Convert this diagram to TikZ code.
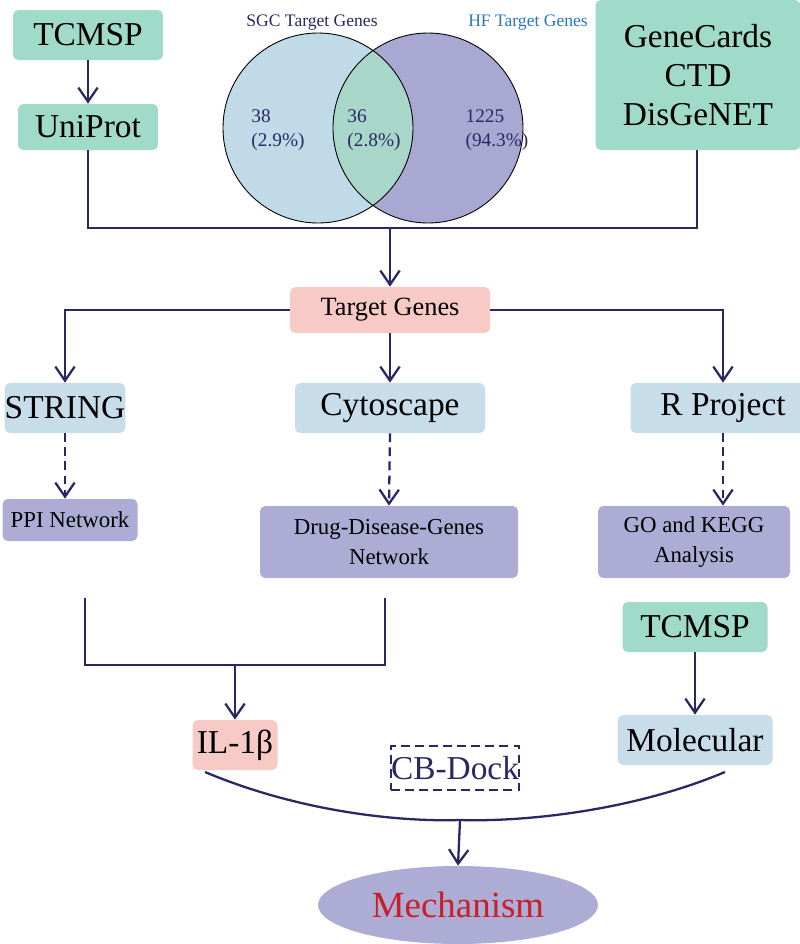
\documentclass[tikz,border=0pt]{standalone}
\usepackage{fontspec}
\setmainfont{Liberation Serif}
\usetikzlibrary{shapes.geometric, arrows.meta, positioning}
\definecolor{teal0}{RGB}{160,218,201}
\definecolor{sky0}{RGB}{200,221,234}
\definecolor{lav0}{RGB}{172,172,212}
\definecolor{pink0}{RGB}{248,202,197}
\definecolor{navy0}{RGB}{40,40,100}
\definecolor{vleft}{RGB}{192,218,232}
\definecolor{vright}{RGB}{168,168,210}
\definecolor{vmid}{RGB}{168,214,200}
\begin{document}
\begin{tikzpicture}[x=0.02cm, y=-0.02cm,
        box/.style={rounded corners=3pt, inner sep=0pt, font=\fontsize{19}{22}\selectfont},
        db/.style={box, fill=teal0},
        tool/.style={box, fill=sky0},
        result/.style={box, fill=lav0, font=\fontsize{13}{17}\selectfont, align=center},
        hit/.style={box, fill=pink0},
        line/.style={draw=navy0, line width=1.3pt},
        arr/.style={line, -{Straight Barb[length=8pt, width=11pt]}},
        darr/.style={arr, dash pattern=on 5pt off 3pt}
    ]
        \useasboundingbox (0,0) rectangle (800,944);
        % Sources
        \node[db, minimum width=150*0.02cm, minimum height=50*0.02cm] (tcm) at (88,35) {TCMSP};
        \node[db, minimum width=140*0.02cm, minimum height=46*0.02cm] (uni) at (88,127) {UniProt};
        \node[db, minimum width=205*0.02cm, minimum height=150*0.02cm, align=center] (gene) at (698,75) {GeneCards\\CTD\\DisGeNET};
        \draw[arr] (tcm) -- (uni);
        % Venn
        \fill[vleft] (318,128) circle (95);
        \fill[vright] (428,128) circle (95);
        \begin{scope}
            \clip (318,128) circle (95);
            \fill[vmid] (428,128) circle (95);
        \end{scope}
        \draw[black, line width=0.5pt] (318,128) circle (95) (428,128) circle (95);
        \node[text=navy0, font=\fontsize{10}{12}\selectfont] (sgc) at (312,23) {SGC Target Genes};
        \node[text={rgb,255:red,40;green,120;blue,190}, font=\fontsize{10}{12}\selectfont] (hf) at (528,23) {HF Target Genes};
        \node[text=navy0, font=\fontsize{11}{14}\selectfont, align=left] (n38) at (278,130) {38\\(2.9\%)};
        \node[text=navy0, font=\fontsize{11}{14}\selectfont, align=left] (n36) at (374,130) {36\\(2.8\%)};
        \node[text=navy0, font=\fontsize{11}{14}\selectfont, align=left] (n1225) at (497,130) {1225\\(94.3\%)};
        % Merge
        \coordinate (jl) at (88,228);
        \coordinate (jr) at (697,228);
        \coordinate (jm) at (390,228);
        \node[hit, minimum width=200*0.02cm, minimum height=46*0.02cm, font=\fontsize{15}{17}\selectfont] (tg) at (390,310) {Target Genes};
        \draw[line] (uni.south) ++(0,25) coordinate (ub) -- (jl) -- (jr) -- (gene.south -| jr);
        \draw[line] (uni.south) -- (ub);
        \draw[arr] (jm) -- (tg.north);
        % Tools
        \node[tool, minimum width=118*0.02cm, minimum height=50*0.02cm] (str) at (65,408) {STRING};
        \node[tool, minimum width=190*0.02cm, minimum height=50*0.02cm] (cyt) at (390,408) {Cytoscape};
        \node[tool, minimum width=185*0.02cm, minimum height=50*0.02cm] (rp) at (723,408) {R Project};
        \draw[arr] (tg.west) -| (str.north);
        \draw[arr] (tg.east) -| (rp.north);
        \draw[arr] (tg.south) -- (cyt.north);
        % Results
        \node[result, minimum width=135*0.02cm, minimum height=42*0.02cm] (ppi) at (70,520) {PPI Network};
        \node[result, minimum width=258*0.02cm, minimum height=72*0.02cm] (ddg) at (389,542) {Drug-Disease-Genes\\Network};
        \node[result, minimum width=192*0.02cm, minimum height=72*0.02cm] (go) at (694,542) {GO and KEGG\\Analysis};
        \draw[darr] (str.south) -- (str.south |- ppi.north);
        \draw[darr] (cyt.south) -- (ddg.north);
        \draw[darr] (rp.south) -- (rp.south |- go.north);
        % Hub gene
        \coordinate (pa) at (85,598);
        \coordinate (pb) at (85,665);
        \coordinate (pc) at (385,665);
        \coordinate (pd) at (385,598);
        \coordinate (pm) at (235,665);
        \draw[line] (pa) -- (pb) -- (pc) -- (pd);
        \node[hit, minimum width=85*0.02cm, minimum height=50*0.02cm] (il) at (235,745) {IL-1β};
        \draw[arr] (pm) -- (il.north);
        % Ligand
        \node[db, minimum width=145*0.02cm, minimum height=50*0.02cm] (tcm2) at (695,627) {TCMSP};
        \node[tool, minimum width=155*0.02cm, minimum height=50*0.02cm] (mol) at (695,740) {Molecular};
        \draw[arr] (tcm2) -- (mol);
        % Docking
        \coordinate (cl) at (205,772);
        \coordinate (cr) at (725,772);
        \coordinate (cm) at (460,820);
        \draw[line] (cl) .. controls (300,812) and (400,822) .. (cm) .. controls (520,822) and (630,812) .. (cr);
        \node[draw=navy0, line width=1.2pt, dash pattern=on 5pt off 3pt, text=navy0, minimum width=128*0.02cm, minimum height=44*0.02cm, inner sep=0pt, font=\fontsize{19}{22}\selectfont] (cb) at (455,768) {CB-Dock};
        \node[ellipse, fill=lav0, minimum width=280*0.02cm, minimum height=78*0.02cm, text={rgb,255:red,200;green,30;blue,40}, font=\fontsize{21}{24}\selectfont] (mech) at (458,905) {Mechanism};
        \draw[arr] (cm) -- (mech.north);
    \end{tikzpicture}
\end{document}
